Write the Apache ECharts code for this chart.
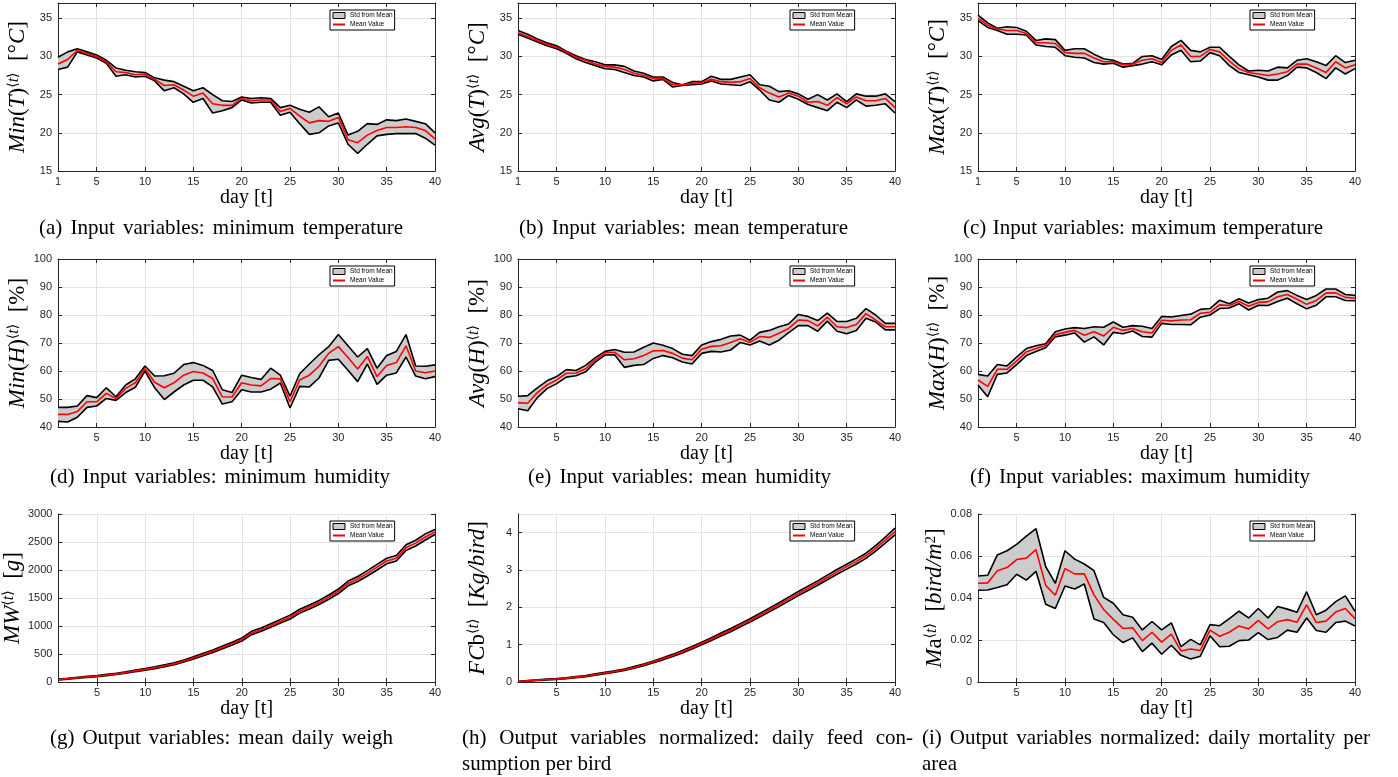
<!DOCTYPE html>
<html>
<head>
<meta charset="utf-8">
<script src="https://cdn.jsdelivr.net/npm/echarts@6/dist/echarts.min.js"></script>
<style>
html, body { margin: 0; padding: 0; background: #fff; }
#main { width: 1398px; height: 777px; }
</style>
</head>
<body>
<div id="main"></div>
<script>
// days 1..40
var days = [];
for (var d = 1; d <= 40; d++) days.push(String(d));

// (a) minimum temperature
var minT_up   = [29.9,30.6,31.0,30.6,30.2,29.5,28.5,28.2,28.0,27.9,27.2,26.9,26.7,26.1,25.5,25.9,25.0,24.2,24.1,24.7,24.5,24.6,24.5,23.3,23.6,23.1,22.7,23.4,22.1,22.6,19.7,20.2,21.2,21.1,21.7,21.6,21.8,21.5,21.2,20.0];
var minT_mean = [29.0,29.6,30.8,30.4,30.0,29.3,28.0,27.9,27.6,27.7,27.0,26.2,26.3,25.6,24.8,25.2,23.8,23.6,23.6,24.5,24.2,24.3,24.3,22.8,23.2,22.2,21.3,21.6,21.5,22.0,19.1,18.7,19.7,20.3,20.7,20.7,20.8,20.7,20.3,19.2];
var minT_low  = [28.3,28.6,30.6,30.2,29.8,29.1,27.4,27.6,27.3,27.4,26.8,25.5,25.9,25.1,24.0,24.5,22.6,22.9,23.3,24.3,23.9,24.0,24.0,22.3,22.7,21.2,19.8,20.0,20.9,21.3,18.5,17.3,18.5,19.6,19.8,19.9,19.9,19.9,19.3,18.4];

// (b) mean temperature
var avgT_up   = [33.4,32.9,32.3,31.8,31.4,30.7,30.1,29.6,29.3,28.9,28.9,28.7,28.1,27.8,27.3,27.3,26.6,26.3,26.7,26.7,27.4,27.0,27.0,27.3,27.6,26.3,26.1,25.4,25.5,25.1,24.4,25.0,24.3,25.1,24.1,25.1,24.8,24.8,25.1,24.1];
var avgT_mean = [33.1,32.6,32.1,31.6,31.2,30.6,29.9,29.5,29.0,28.7,28.6,28.3,27.8,27.5,27.1,27.1,26.3,26.3,26.5,26.6,27.0,26.7,26.6,26.7,27.1,25.9,25.2,24.7,25.2,24.8,24.0,24.1,23.6,24.6,23.8,24.7,24.2,24.2,24.5,23.3];
var avgT_low  = [32.9,32.4,31.9,31.4,31.0,30.4,29.7,29.2,28.8,28.4,28.3,27.9,27.5,27.3,26.8,27.0,26.0,26.2,26.3,26.4,26.8,26.4,26.3,26.2,26.7,25.6,24.3,24.0,24.9,24.4,23.7,23.3,22.9,24.0,23.3,24.3,23.5,23.6,23.8,22.6];

// (c) maximum temperature
var maxT_up   = [35.4,34.4,33.7,33.9,33.8,33.3,32.1,32.3,32.2,30.8,31.0,31.0,30.3,29.7,29.5,29.0,29.1,30.0,30.1,29.6,31.3,32.1,30.8,30.6,31.2,31.2,30.0,28.9,28.1,28.2,28.1,28.6,28.5,29.5,29.7,29.3,28.8,30.1,29.2,29.5];
var maxT_mean = [35.0,34.1,33.6,33.4,33.4,33.0,31.8,31.8,31.7,30.5,30.4,30.4,29.8,29.3,29.3,28.9,29.0,29.5,29.7,29.2,30.8,31.5,30.0,30.0,30.9,30.6,29.4,28.4,27.9,27.7,27.5,27.7,28.0,29.0,29.0,28.5,27.9,29.3,28.5,28.9];
var maxT_low  = [34.7,33.8,33.4,32.9,32.9,32.8,31.5,31.3,31.2,30.1,29.9,29.8,29.2,29.0,29.1,28.6,28.8,29.0,29.3,28.9,30.2,30.8,29.3,29.4,30.5,30.1,28.8,27.9,27.6,27.3,26.9,26.9,27.5,28.6,28.5,27.9,27.1,28.5,27.7,28.4];

// (d) minimum humidity
var minH_up   = [47,47,47.5,51.2,50.5,54,50.8,55,57.2,61.8,58.2,58.3,59.2,62.3,63,62,60.2,53.3,52.3,58.5,57.7,57,61,58.5,51,59,62.5,65.8,68.7,73,69,65,68,61,65.5,67,73,61.8,61.7,62.2];
var minH_mean = [44.5,44.5,45.5,49,49,52,50.2,53.8,55.8,60.8,56,54,55.8,58.5,59.8,59.3,57.3,50.8,50.7,55.8,55,54.7,57.3,57.2,49,56.8,58.5,61.7,66.3,68.7,64.8,60.7,65.2,58,62,63,69,60,59.4,60];
var minH_low  = [42,41.8,43.5,47,47.5,50.2,49.5,52.3,54.2,60,54,49.8,52.5,55,56.7,56.7,54.3,48.2,49,53.3,52.5,52.5,53.5,55.7,46.8,54.5,54.3,57.5,63.8,64.2,60.3,56.2,62.5,55.2,58.5,59.3,65,58.2,57.2,58];

// (e) mean humidity
var avgH_up   = [51,51.2,54,56.5,58,60.5,60.2,62,64.8,67,67.7,66.7,66.8,68.5,70,69.2,68,66,65.5,69.3,70.5,71.3,72.5,72.8,71,73.8,74.5,75.8,76.8,80.2,79.5,78,80.7,77.7,77.7,78.8,82.3,80,77,77];
var avgH_mean = [48.7,48.5,52.3,55,56.8,59.2,59.3,60.8,64,66.5,66.7,64,64.4,65.5,67.2,67.3,66.3,64.6,64,67.8,68.8,69,70.2,71.5,70.2,72.3,72,73.5,75.2,78.2,78,76.1,79.2,75.8,75.5,76.6,80.5,78.2,75.8,75.8];
var avgH_low  = [46.5,45.8,50.5,53.7,55.5,57.8,58.3,59.7,63.2,65.7,65.8,61.3,62,62.3,64.5,65.5,64.7,63.2,62.5,66.3,67,66.8,67.5,70.2,69.3,70.7,69.3,71,73.7,76.2,76.2,74.2,77.8,74.2,73.3,74.5,78.8,77.5,74.7,74.7];

// (f) maximum humidity
var maxH_up   = [58.8,58.2,62.3,61.8,65,68,69,69.7,74,75,75.5,75.2,75.8,75.6,77.5,75.6,76.2,76,75.2,79.5,79.3,79.8,80.3,82,82.3,85.3,84,85.8,84.3,85.5,86,88.2,88.7,87,85.5,87,89.3,89.3,87.3,87];
var maxH_mean = [56.8,54.5,60.6,60.6,63.6,66.8,68,69.1,73,73.8,74.5,72.8,74,72.5,75.6,74.5,75.2,74,73.6,78.1,77.9,78.2,78.3,80.6,81,83.6,83.4,84.8,83.1,84.5,84.7,86.5,87.3,85.6,83.8,85.2,87.8,87.9,86.3,86];
var maxH_low  = [55,50.8,58.8,59.3,62.3,65.5,67,68.3,72.2,72.8,73.6,70.3,72.2,69.3,73.8,73.3,74.3,72.3,72.1,77,76.6,76.6,76.5,79.2,80,82.3,82.5,84,81.8,83.5,83.4,84.8,86,84,82.2,83.5,86.5,86.5,85.2,85.1];

// (g) mean daily weight
var mw_up   = [53,68,84,100,115,136,157,183,214,240,271,307,343,394,450,512,573,645,711,788,905,965,1042,1118,1194,1300,1376,1457,1553,1660,1802,1885,1988,2100,2210,2258,2450,2532,2645,2725];
var mw_mean = [45,60,75,90,105,125,145,170,200,225,255,290,325,375,430,490,550,620,685,760,875,935,1010,1085,1160,1265,1340,1420,1515,1620,1760,1840,1940,2050,2160,2210,2400,2480,2590,2680];
var mw_low  = [37,52,66,80,95,114,133,157,186,210,239,273,307,356,410,468,527,595,659,732,845,905,978,1052,1126,1230,1304,1383,1477,1580,1718,1795,1892,2000,2110,2162,2350,2428,2535,2635];

// (h) feed consumption per bird
var fcb_up   = [0.02,0.04,0.06,0.077,0.093,0.114,0.145,0.176,0.217,0.258,0.3,0.35,0.412,0.484,0.565,0.647,0.74,0.842,0.954,1.065,1.187,1.31,1.432,1.564,1.696,1.838,1.98,2.122,2.274,2.426,2.568,2.71,2.862,3.014,3.156,3.298,3.45,3.655,3.88,4.12];
var fcb_mean = [0.01,0.03,0.05,0.065,0.08,0.1,0.13,0.16,0.2,0.24,0.28,0.33,0.39,0.46,0.54,0.62,0.71,0.81,0.92,1.03,1.15,1.27,1.39,1.52,1.65,1.79,1.93,2.07,2.22,2.37,2.51,2.65,2.8,2.95,3.09,3.23,3.38,3.58,3.8,4.03];
var fcb_low  = [0.0,0.02,0.04,0.053,0.067,0.086,0.115,0.144,0.183,0.222,0.26,0.31,0.368,0.436,0.515,0.593,0.68,0.778,0.886,0.995,1.113,1.23,1.348,1.476,1.604,1.742,1.88,2.018,2.166,2.314,2.452,2.59,2.738,2.886,3.024,3.162,3.31,3.505,3.72,3.94];

// (i) mortality per area
var ma_up   = [0.0505,0.0508,0.0605,0.0625,0.0655,0.0695,0.073,0.055,0.047,0.0625,0.0585,0.0562,0.053,0.0403,0.0375,0.032,0.0308,0.0248,0.0288,0.0248,0.0282,0.0168,0.0203,0.0177,0.0273,0.0268,0.0302,0.0337,0.0305,0.035,0.0305,0.036,0.0347,0.0332,0.043,0.032,0.0342,0.0383,0.041,0.0337];
var ma_mean = [0.047,0.0472,0.053,0.0545,0.0583,0.059,0.063,0.046,0.0413,0.054,0.0515,0.0515,0.0415,0.0345,0.0298,0.0255,0.0258,0.0197,0.0237,0.019,0.0228,0.0148,0.0157,0.015,0.0247,0.0218,0.0237,0.0267,0.0253,0.0293,0.0253,0.0287,0.0297,0.0285,0.0367,0.0283,0.029,0.0333,0.035,0.0302];
var ma_low  = [0.0437,0.0438,0.045,0.0463,0.0513,0.0485,0.0527,0.037,0.035,0.0457,0.0443,0.0467,0.03,0.0283,0.0225,0.0188,0.021,0.0145,0.0185,0.0132,0.0175,0.0127,0.011,0.0123,0.022,0.0168,0.017,0.0197,0.02,0.0235,0.0202,0.0212,0.0247,0.0237,0.0305,0.0245,0.0237,0.0283,0.029,0.0267];

var SERIF = '"Liberation Serif", "Times New Roman", serif';
var SANS = '"Liberation Sans", Arial, sans-serif';
var AX = '#262626';
var GRID = '#e3e3e3';

var SUP_T = '{s|⟨}{si|t}{s|⟩}';
var panels = [
    { up: minT_up, mean: minT_mean, low: minT_low, min: 15, max: 37, step: 5, showMax: false,
      yname: '{i|Min}{r|(}{i|T}{r|)}' + SUP_T + '{r|  [°}{i|C}{r|]}' },
    { up: avgT_up, mean: avgT_mean, low: avgT_low, min: 15, max: 37, step: 5, showMax: false,
      yname: '{i|Avg}{r|(}{i|T}{r|)}' + SUP_T + '{r|  [°}{i|C}{r|]}' },
    { up: maxT_up, mean: maxT_mean, low: maxT_low, min: 15, max: 37, step: 5, showMax: false,
      yname: '{i|Max}{r|(}{i|T}{r|)}' + SUP_T + '{r|  [°}{i|C}{r|]}' },
    { up: minH_up, mean: minH_mean, low: minH_low, min: 40, max: 100, step: 10, showMax: true,
      yname: '{i|Min}{r|(}{i|H}{r|)}' + SUP_T + '{r|  [%]}' },
    { up: avgH_up, mean: avgH_mean, low: avgH_low, min: 40, max: 100, step: 10, showMax: true,
      yname: '{i|Avg}{r|(}{i|H}{r|)}' + SUP_T + '{r|  [%]}' },
    { up: maxH_up, mean: maxH_mean, low: maxH_low, min: 40, max: 100, step: 10, showMax: true,
      yname: '{i|Max}{r|(}{i|H}{r|)}' + SUP_T + '{r|  [%]}' },
    { up: mw_up, mean: mw_mean, low: mw_low, min: 0, max: 3000, step: 500, showMax: true,
      yname: '{i|MW}' + SUP_T + '{r|  [}{i|g}{r|]}' },
    { up: fcb_up, mean: fcb_mean, low: fcb_low, min: 0, max: 4.5, step: 1, showMax: false,
      yname: '{i|FC}{r|b}' + SUP_T + '{r|  [}{i|Kg/bird}{r|]}' },
    { up: ma_up, mean: ma_mean, low: ma_low, min: 0, max: 0.08, step: 0.02, showMax: true,
      yname: '{i|M}{r|a}' + SUP_T + '{r|  [}{i|bird/m}{s2|2}{r|]}' }
];

// layout of the 3x3 plot boxes
var plotLeft = [58, 518, 978];
var plotTop = [3, 259, 514];
var PW = 377, PH = 168;

var richY = {
    i: { fontFamily: SERIF, fontStyle: 'italic', fontSize: 23, color: '#000' },
    r: { fontFamily: SERIF, fontSize: 23, color: '#000' },
    s: { fontFamily: '"DejaVu Sans", sans-serif', fontSize: 14, color: '#000', verticalAlign: 'top' },
    si: { fontFamily: SERIF, fontStyle: 'italic', fontSize: 16, color: '#000', verticalAlign: 'top' },
    s2: { fontFamily: SERIF, fontSize: 15, color: '#000', verticalAlign: 'top' }
};

var option = { animation: false, grid: [], xAxis: [], yAxis: [], legend: [], series: [], graphic: [] };

panels.forEach(function (p, k) {
    var col = k % 3, row = Math.floor(k / 3);
    var L = plotLeft[col], T = plotTop[row];
    var tickFn = function (i) { return (i + 1) % 5 === 0 || (row === 0 && i === 0); };
    var gridFn = function (i) { return (i + 1) % 5 === 0; };

    option.grid.push({ left: L, top: T, width: PW, height: PH });

    option.xAxis.push({
        type: 'category', gridIndex: k, data: days, boundaryGap: false, position: 'bottom',
        axisLine: { lineStyle: { color: AX, width: 1 } },
        axisTick: { inside: true, length: 4, interval: tickFn, lineStyle: { color: AX } },
        axisLabel: { interval: tickFn, color: AX, fontSize: 11, fontFamily: SANS, margin: 5 },
        splitLine: { show: true, interval: gridFn, lineStyle: { color: GRID, width: 1 } },
        name: 'day [t]', nameLocation: 'middle', nameGap: 16,
        nameTextStyle: { fontFamily: SERIF, fontSize: 20, color: '#000' }
    });
    option.xAxis.push({
        type: 'category', gridIndex: k, data: days, boundaryGap: false, position: 'top',
        axisLine: { lineStyle: { color: AX, width: 1 } },
        axisTick: { inside: true, length: 4, interval: tickFn, lineStyle: { color: AX } },
        axisLabel: { show: false }, splitLine: { show: false }
    });
    option.yAxis.push({
        type: 'value', gridIndex: k, min: p.min, max: p.max, interval: p.step, position: 'left',
        axisLine: { show: true, lineStyle: { color: AX, width: 1 } },
        axisTick: { show: true, inside: true, length: 4, lineStyle: { color: AX } },
        axisLabel: { color: AX, fontSize: 11, fontFamily: SANS, margin: 6, showMaxLabel: p.showMax,
            formatter: function (v) { return String(+v.toFixed(4)); } },
        splitLine: { show: true, lineStyle: { color: GRID, width: 1 } },
        name: p.yname, nameLocation: 'middle', nameRotate: 90, nameGap: 29,
        nameTextStyle: { rich: richY }
    });
    option.yAxis.push({
        type: 'value', gridIndex: k, min: p.min, max: p.max, interval: p.step, position: 'right',
        axisLine: { show: true, lineStyle: { color: AX, width: 1 } },
        axisTick: { show: true, inside: true, length: 4, lineStyle: { color: AX } },
        axisLabel: { show: false }, splitLine: { show: false }
    });

    var xi = 2 * k, yi = 2 * k;
    var diff = p.up.map(function (u, i) { return +(u - p.low[i]).toFixed(6); });
    option.series.push({
        type: 'line', name: 'base' + k, xAxisIndex: xi, yAxisIndex: yi, stack: 'band' + k,
        data: p.low, symbol: 'none', silent: true, lineStyle: { opacity: 0 }, z: 1
    });
    option.series.push({
        type: 'line', name: 'Std from Mean', xAxisIndex: xi, yAxisIndex: yi, stack: 'band' + k,
        data: diff, symbol: 'none', silent: true, lineStyle: { opacity: 0 },
        itemStyle: { color: '#cccccc' }, areaStyle: { color: '#cccccc', opacity: 1 }, z: 1
    });
    option.series.push({
        type: 'line', name: 'upper' + k, xAxisIndex: xi, yAxisIndex: yi, data: p.up,
        symbol: 'none', silent: true, lineStyle: { color: '#000', width: 1.6 }, z: 2
    });
    option.series.push({
        type: 'line', name: 'lower' + k, xAxisIndex: xi, yAxisIndex: yi, data: p.low,
        symbol: 'none', silent: true, lineStyle: { color: '#000', width: 1.6 }, z: 2
    });
    option.series.push({
        type: 'line', name: 'Mean Value', xAxisIndex: xi, yAxisIndex: yi, data: p.mean,
        symbol: 'none', silent: true, itemStyle: { color: '#ff0000' },
        lineStyle: { color: '#ff0000', width: 1.6 }, z: 3
    });

    option.legend.push({
        left: L + 272, top: T + 7, orient: 'vertical', selectedMode: false,
        data: [
            { name: 'Std from Mean', icon: 'rect', itemStyle: { color: '#cccccc', borderColor: '#000', borderWidth: 1 } },
            { name: 'Mean Value', itemStyle: { opacity: 0 }, lineStyle: { color: '#ff0000', width: 2 } }
        ],
        itemWidth: 12, itemHeight: 6, itemGap: 2, padding: [2, 2, 2, 2],
        borderColor: '#000', borderWidth: 1, backgroundColor: '#fff',
        textStyle: { fontSize: 6.5, fontFamily: SANS, color: '#000' }
    });
});

// captions, spread between the left and right ends they take in the figure
var CAP_FONT = '21px "Liberation Serif"';
var ctx = document.createElement('canvas').getContext('2d');
ctx.font = CAP_FONT;
function capText(text, x, y) {
    option.graphic.push({ type: 'text', x: x, y: y, silent: true,
        style: { text: text, font: CAP_FONT, fill: '#000', align: 'left', verticalAlign: 'middle' } });
}
function justify(line, x0, x1, y) {
    var words = line.split(' ');
    var widths = words.map(function (w) { return ctx.measureText(w).width; });
    var total = widths.reduce(function (a, b) { return a + b; }, 0);
    var gap = (x1 - x0 - total) / (words.length - 1);
    var x = x0;
    words.forEach(function (w, i) {
        capText(w, x, y);
        x += widths[i] + gap;
    });
}
justify('(a) Input variables: minimum temperature', 39, 403, 228);
justify('(b) Input variables: mean temperature', 519, 848, 228);
justify('(c) Input variables: maximum temperature', 963, 1323, 228);
justify('(d) Input variables: minimum humidity', 50, 390, 477);
justify('(e) Input variables: mean humidity', 528, 831, 477);
justify('(f) Input variables: maximum humidity', 970, 1310, 477);
justify('(g) Output variables: mean daily weigh', 50, 393, 738);
justify('(h) Output variables normalized: daily feed con-', 462, 913, 738);
capText('sumption per bird', 462, 764);
justify('(i) Output variables normalized: daily mortality per', 922, 1370, 738);
capText('area', 922, 764);

var myChart = echarts.init(document.getElementById('main'));
myChart.setOption(option);
window.onresize = function () { myChart.resize(); };
</script>
</body>
</html>
